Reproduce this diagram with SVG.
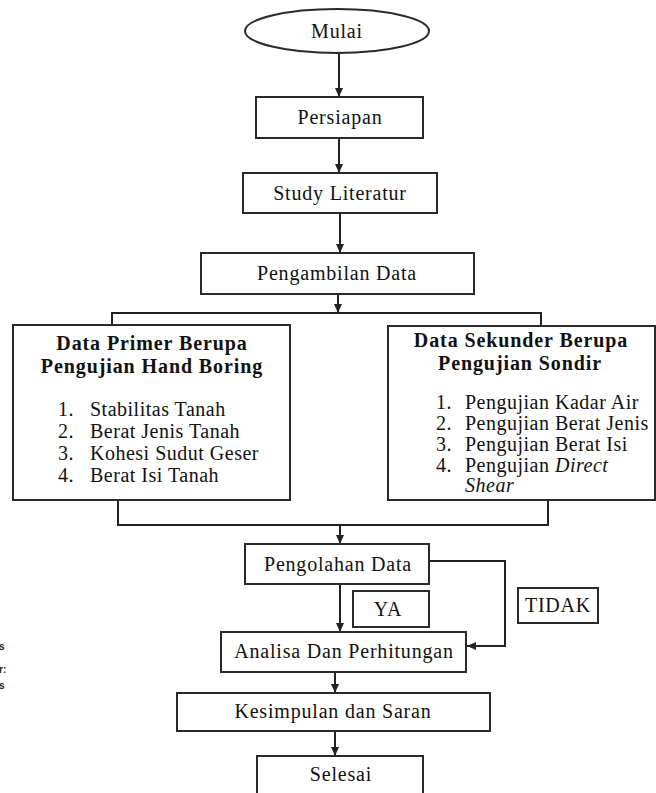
<svg xmlns="http://www.w3.org/2000/svg" width="656" height="793" viewBox="0 0 656 793">
<style>
.box{fill:#fff;stroke:#2a2a2a;stroke-width:2}
.t{font-family:"Liberation Serif","Times New Roman",serif;font-size:20px;fill:#111;text-anchor:middle;letter-spacing:0.8px}
.h{font-family:"Liberation Serif","Times New Roman",serif;font-size:20px;font-weight:bold;fill:#111;text-anchor:middle;letter-spacing:0.9px}
.l{font-family:"Liberation Serif","Times New Roman",serif;font-size:20px;fill:#111;letter-spacing:0.5px}
.c{fill:none;stroke:#222;stroke-width:2}
.f{font-family:"Liberation Sans",Arial,sans-serif;font-size:10px;font-weight:bold;fill:#222}
</style>
<defs>
<marker id="ah" markerUnits="userSpaceOnUse" markerWidth="10" markerHeight="10" refX="9" refY="5" orient="auto">
<path d="M0,1 L9,5 L0,9 z" fill="#222"/>
</marker>
</defs>
<g id="connectors">
<line class="c" x1="339" y1="53" x2="339" y2="97" marker-end="url(#ah)"/>
<line class="c" x1="339" y1="138" x2="339" y2="173" marker-end="url(#ah)"/>
<line class="c" x1="340" y1="213" x2="340" y2="253" marker-end="url(#ah)"/>
<line class="c" x1="338" y1="294" x2="338" y2="313" marker-end="url(#ah)"/>
<path class="c" d="M112,325 V313 H541 V326"/>
<path class="c" d="M118,500 V525 H548 V500"/>
<line class="c" x1="340" y1="525" x2="340" y2="544" marker-end="url(#ah)"/>
<line class="c" x1="340" y1="584" x2="340" y2="632" marker-end="url(#ah)"/>
<path class="c" d="M429,561 H505 V646 H467" marker-end="url(#ah)"/>
<line class="c" x1="335" y1="672" x2="335" y2="693" marker-end="url(#ah)"/>
<line class="c" x1="335" y1="731" x2="335" y2="756" marker-end="url(#ah)"/>
</g>
<g id="mulai">
<ellipse class="box" cx="337" cy="31" rx="92" ry="22"/>
<text class="t" x="337" y="38">Mulai</text>
</g>
<g id="persiapan">
<rect class="box" x="256" y="97" width="167" height="41"/>
<text class="t" x="340" y="124">Persiapan</text>
</g>
<g id="study">
<rect class="box" x="243" y="173" width="194" height="40"/>
<text class="t" x="340" y="200">Study Literatur</text>
</g>
<g id="pengambilan">
<rect class="box" x="201" y="253" width="273" height="41"/>
<text class="t" x="337" y="280">Pengambilan Data</text>
</g>
<g id="primer">
<rect class="box" x="13" y="325" width="277" height="175"/>
<text class="h" x="152" y="350">Data Primer Berupa</text>
<text class="h" x="152" y="373">Pengujian Hand Boring</text>
<text class="l" x="58" y="416">1.</text><text class="l" x="90" y="416">Stabilitas Tanah</text>
<text class="l" x="58" y="438">2.</text><text class="l" x="90" y="438">Berat Jenis Tanah</text>
<text class="l" x="58" y="460">3.</text><text class="l" x="90" y="460">Kohesi Sudut Geser</text>
<text class="l" x="58" y="482">4.</text><text class="l" x="90" y="482">Berat Isi Tanah</text>
</g>
<g id="sekunder">
<rect class="box" x="388" y="326" width="267" height="174"/>
<text class="h" x="521" y="347">Data Sekunder Berupa</text>
<text class="h" x="520" y="370">Pengujian Sondir</text>
<text class="l" x="436" y="409">1.</text><text class="l" x="465" y="409">Pengujian Kadar Air</text>
<text class="l" x="436" y="430">2.</text><text class="l" x="465" y="430">Pengujian Berat Jenis</text>
<text class="l" x="436" y="451">3.</text><text class="l" x="465" y="451">Pengujian Berat Isi</text>
<text class="l" x="436" y="472">4.</text><text class="l" x="465" y="472">Pengujian <tspan font-style="italic">Direct</tspan></text>
<text class="l" x="465" y="492" font-style="italic">Shear</text>
</g>
<g id="pengolahan">
<rect class="box" x="245" y="544" width="184" height="40"/>
<text class="t" x="338" y="571">Pengolahan Data</text>
</g>
<g id="ya">
<rect class="box" x="353" y="591" width="76" height="36"/>
<text class="t" x="388" y="616">YA</text>
</g>
<g id="tidak">
<rect class="box" x="518" y="588" width="80" height="35"/>
<text class="t" x="558" y="612">TIDAK</text>
</g>
<g id="analisa">
<rect class="box" x="221" y="632" width="245" height="40"/>
<text class="t" x="344" y="658">Analisa Dan Perhitungan</text>
</g>
<g id="kesimpulan">
<rect class="box" x="177" y="693" width="313" height="38"/>
<text class="t" x="333" y="718">Kesimpulan dan Saran</text>
</g>
<g id="selesai">
<rect class="box" x="257" y="756" width="166" height="45"/>
<text class="t" x="341" y="781">Selesai</text>
</g>
<g id="fragments">
<text class="f" x="-1" y="650">s</text>
<text class="f" x="-1" y="673">r:</text>
<text class="f" x="-1" y="689">s</text>
</g>
</svg>
